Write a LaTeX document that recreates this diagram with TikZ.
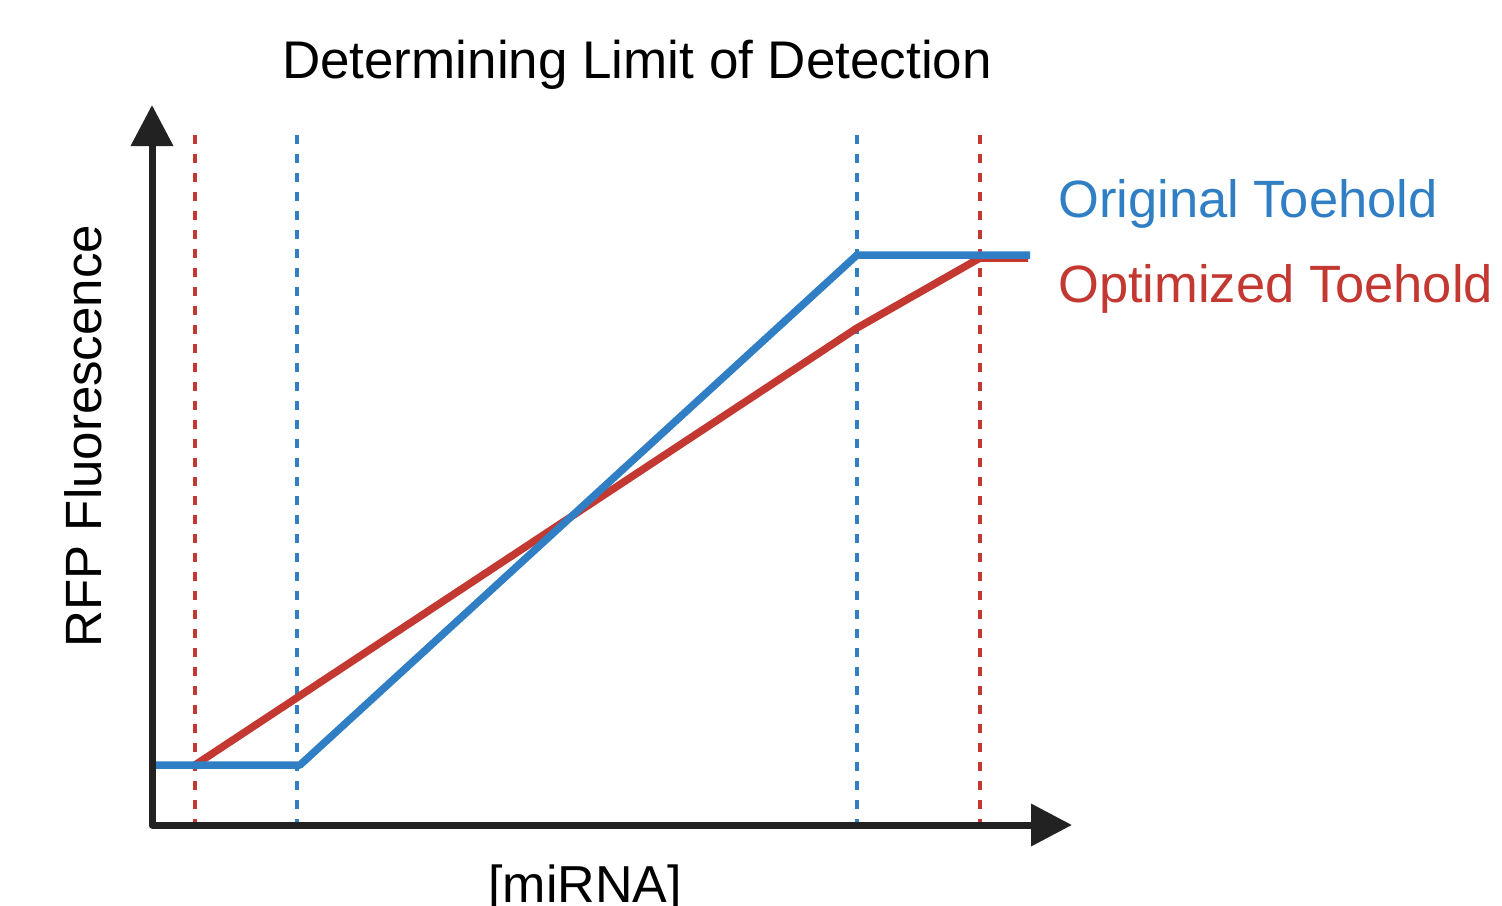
\documentclass[tikz,border=0pt]{standalone}
\usepackage{fontspec}
\setmainfont{Liberation Sans}
\usetikzlibrary{arrows.meta}
\definecolor{cblue}{RGB}{48,127,196}
\definecolor{cred}{RGB}{196,56,50}
\definecolor{caxis}{RGB}{34,34,34}
\tikzset{
  axis/.style={draw=caxis, line width=7pt, line join=round,
    {Triangle[width=41pt,length=41pt]}-{Triangle[width=41pt,length=41pt]}},
  guide/.style={line width=4.5pt, dash pattern=on 9pt off 10pt},
  curve/.style={line width=7.5pt, line join=round},
  lbl/.style={inner sep=0pt, font=\fontsize{52.5}{60}\selectfont},
}
\begin{document}
\begin{tikzpicture}[x=1pt,y=-1pt]
\useasboundingbox (0,0) rectangle (1502,905);
% coordinates
\coordinate (ytip) at (152,105);
\coordinate (org) at (152,825);
\coordinate (xtip) at (1072,825);
\coordinate (b0) at (155,765);
\coordinate (b1) at (300,765);
\coordinate (b2) at (857,255);
\coordinate (b3) at (1030,255);
\coordinate (r0) at (195,765);
\coordinate (r1) at (857,328);
\coordinate (r2) at (980,258);
\coordinate (r3) at (1028,258);
% guides
\foreach \x/\c in {195/cred, 980/cred, 297/cblue, 857/cblue}
  \draw[guide, \c] (\x,135) coordinate (g\x) -- (\x,825);
% curves
\draw[curve, cred] (r0) -- (r1) -- (r2) -- (r3);
\draw[curve, cblue] (b0) -- (b1) -- (b2) -- (b3);
% axes
\draw[axis] (ytip) -- (org) -- (xtip);
% labels
\node[lbl, anchor=base, font=\fontsize{53}{60}\selectfont] (title) at (637,78) {Determining Limit of Detection};
\node[lbl, anchor=base west, text=cblue] (orig) at (1058,217) {Original Toehold};
\node[lbl, anchor=base west, text=cred] (opt) at (1058,302) {Optimized Toehold};
\node[lbl, anchor=base, font=\fontsize{52}{60}\selectfont] (xl) at (585,902) {[miRNA]};
\node[lbl, anchor=base, rotate=90, font=\fontsize{51}{60}\selectfont] (yl) at (101,436) {RFP Fluorescence};
\end{tikzpicture}
\end{document}
